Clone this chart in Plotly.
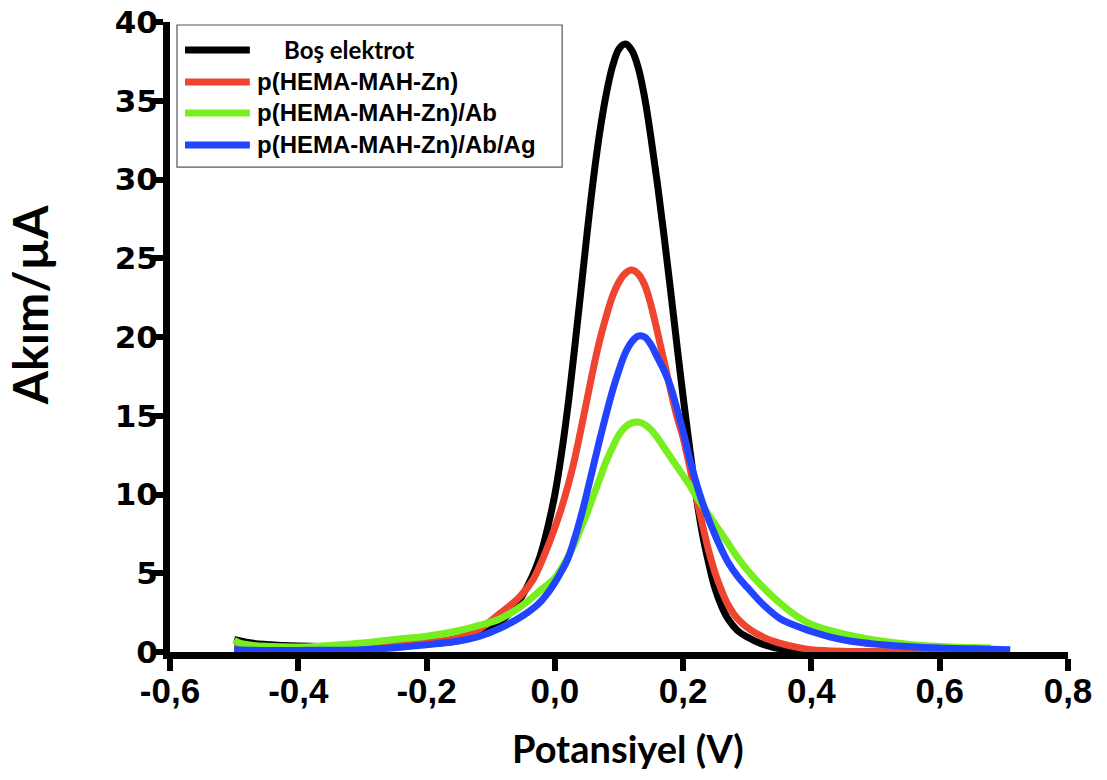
import plotly.graph_objects as go

# ---------------- data ----------------
series_names = ["Boş elektrot", "p(HEMA-MAH-Zn)", "p(HEMA-MAH-Zn)/Ab", "p(HEMA-MAH-Zn)/Ab/Ag"]
series_colors = ["#000000", "#EE4430", "#77EE1E", "#2244FF"]

bos_x = [-0.500, -0.490, -0.470, -0.450, -0.400, -0.300, -0.250, -0.200, -0.170, -0.140, -0.110,
         -0.090, -0.070, -0.055, -0.040, -0.030, -0.020, -0.010, 0.000, 0.010, 0.020, 0.030,
         0.040, 0.050, 0.060, 0.070, 0.080, 0.090, 0.100, 0.110, 0.120, 0.130, 0.140, 0.150,
         0.160, 0.170, 0.180, 0.190, 0.200, 0.211, 0.220, 0.230, 0.240, 0.250, 0.260, 0.270,
         0.285, 0.300, 0.320, 0.340, 0.370, 0.400, 0.450, 0.500, 0.600, 0.700]
bos_y = [0.80, 0.70, 0.55, 0.48, 0.38, 0.33, 0.40, 0.50, 0.60, 0.80, 1.20,
         1.70, 2.50, 3.30, 4.40, 5.30, 6.50, 8.10, 10.0, 12.5, 15.5, 19.0,
         22.7, 26.5, 30.0, 33.0, 35.4, 37.2, 38.3, 38.6, 38.2, 37.1, 35.2, 32.6,
         29.7, 26.5, 23.1, 19.6, 16.2, 12.7, 10.0, 7.5, 5.6, 4.0, 2.9, 2.1,
         1.35, 0.95, 0.55, 0.30, 0.12, 0.04, 0.01, 0.0, 0.0, 0.0]

zn_x = [-0.500, -0.450, -0.400, -0.300, -0.200, -0.150, -0.120, -0.090, -0.055, -0.034, -0.020,
        -0.010, 0.000, 0.010, 0.020, 0.030, 0.040, 0.050, 0.060, 0.070, 0.080, 0.090, 0.100,
        0.110, 0.120, 0.130, 0.140, 0.150, 0.160, 0.170, 0.180, 0.190, 0.200, 0.210, 0.220,
        0.230, 0.240, 0.250, 0.260, 0.270, 0.285, 0.305, 0.330, 0.350, 0.380, 0.400, 0.450,
        0.500, 0.600, 0.700]
zn_y = [0.35, 0.30, 0.28, 0.35, 0.60, 0.90, 1.40, 2.30, 3.50, 4.60, 5.80,
        6.80, 7.90, 9.10, 10.5, 12.1, 14.0, 16.0, 18.0, 19.8, 21.3, 22.6, 23.5,
        24.05, 24.25, 24.0, 23.3, 22.0, 20.3, 18.5, 16.7, 15.0, 13.6, 11.8, 9.9,
        8.1, 6.4, 5.0, 3.9, 3.0, 2.1, 1.4, 0.85, 0.57, 0.28, 0.15, 0.05,
        0.02, 0.0, 0.0]

ab_x = [-0.500, -0.490, -0.470, -0.450, -0.400, -0.350, -0.300, -0.250, -0.200, -0.150, -0.117,
        -0.086, -0.060, -0.040, -0.020, 0.000, 0.010, 0.020, 0.030, 0.040, 0.050, 0.060,
        0.070, 0.080, 0.090, 0.100, 0.110, 0.120, 0.130, 0.140, 0.150, 0.160, 0.170, 0.180,
        0.190, 0.200, 0.210, 0.220, 0.230, 0.240, 0.250, 0.260, 0.270, 0.285, 0.300, 0.320,
        0.340, 0.360, 0.380, 0.400, 0.430, 0.460, 0.500, 0.550, 0.600, 0.650, 0.680]
ab_y = [0.75, 0.55, 0.42, 0.36, 0.32, 0.42, 0.57, 0.80, 1.00, 1.35, 1.70,
        2.10, 2.70, 3.30, 4.00, 4.70, 5.30, 6.00, 6.80, 7.80, 8.80, 9.90,
        11.0, 12.1, 13.0, 13.8, 14.3, 14.55, 14.6, 14.45, 14.1, 13.6, 13.0, 12.4,
        11.8, 11.2, 10.6, 9.9, 9.3, 8.7, 8.1, 7.5, 6.9, 6.0, 5.2, 4.3,
        3.5, 2.8, 2.2, 1.75, 1.35, 1.05, 0.75, 0.50, 0.35, 0.28, 0.25]

ag_x = [-0.500, -0.450, -0.400, -0.300, -0.240, -0.190, -0.150, -0.117, -0.086, -0.050, -0.030,
        -0.020, -0.010, 0.000, 0.010, 0.020, 0.030, 0.040, 0.050, 0.060, 0.070, 0.080, 0.090,
        0.100, 0.110, 0.120, 0.130, 0.140, 0.150, 0.160, 0.170, 0.180, 0.190, 0.200, 0.210,
        0.220, 0.230, 0.240, 0.250, 0.260, 0.270, 0.285, 0.300, 0.325, 0.352, 0.380, 0.400,
        0.430, 0.460, 0.500, 0.550, 0.600, 0.650, 0.710]
ag_y = [0.15, 0.10, 0.10, 0.15, 0.30, 0.50, 0.70, 1.00, 1.50, 2.30, 2.90,
        3.30, 3.80, 4.40, 5.10, 5.90, 7.10, 8.50, 10.1, 11.8, 13.5, 15.1, 16.6,
        17.9, 19.0, 19.7, 20.05, 20.0, 19.5, 18.7, 17.9, 16.9, 15.5, 14.0, 12.3,
        10.8, 9.5, 8.4, 7.4, 6.5, 5.7, 4.8, 4.1, 3.0, 2.1, 1.6, 1.3,
        0.95, 0.70, 0.50, 0.35, 0.25, 0.20, 0.15]

x_tickvals = [-0.6, -0.4, -0.2, 0.0, 0.2, 0.4, 0.6, 0.8]
x_ticktext = ["-0,6", "-0,4", "-0,2", "0,0", "0,2", "0,4", "0,6", "0,8"]
y_tickvals = [0, 5, 10, 15, 20, 25, 30, 35, 40]
x_title = "Potansiyel (V)"
y_title = "Akım/µA"

xs = [bos_x, zn_x, ab_x, ag_x]
ys = [bos_y, zn_y, ab_y, ag_y]

# ---------------- figure ----------------
fig = go.Figure()
for name, color, x, y in zip(series_names, series_colors, xs, ys):
    fig.add_trace(go.Scatter(x=x, y=y, mode="lines", name=name,
                             line=dict(color=color, width=7, shape="spline", smoothing=1.0),
                             showlegend=False))

# manual legend (long line samples like the original)
leg_rows = [0.9556, 0.9048, 0.8556, 0.8048]
shapes = [dict(type="rect", xref="paper", yref="paper", x0=0.0078, x1=0.4367, y0=0.7698, y1=0.9952,
               line=dict(color="#555555", width=1.2), fillcolor="white", layer="below")]
annotations = []
for i, (name, color) in enumerate(zip(series_names, series_colors)):
    yy = leg_rows[i]
    shapes.append(dict(type="line", xref="paper", yref="paper", x0=0.0167, x1=0.0889, y0=yy, y1=yy,
                       line=dict(color=color, width=7), layer="above"))
    if i == 0:
        annotations.append(dict(xref="paper", yref="paper", x=0.1244, y=yy, xanchor="left", yanchor="middle",
                                text=name, showarrow=False,
                                font=dict(family="Lato", size=24, color="black", weight="bold")))
    else:
        annotations.append(dict(xref="paper", yref="paper", x=0.0944, y=yy, xanchor="left", yanchor="middle",
                                text=name, showarrow=False,
                                font=dict(family="Liberation Sans", size=24, color="black", weight="bold")))

# axis titles
annotations.append(dict(xref="paper", yref="paper", x=-0.1555, y=0.551, xanchor="center", yanchor="middle",
                        text=y_title, textangle=-90, showarrow=False,
                        font=dict(family="Lato", size=48, color="black", weight="bold")))
annotations.append(dict(xref="paper", yref="paper", x=0.510, y=-0.152, xanchor="center", yanchor="middle",
                        text=x_title, showarrow=False,
                        font=dict(family="Lato", size=38, color="black", weight="bold")))

fig.update_layout(
    width=1107, height=780,
    margin=dict(l=170, r=39, t=22, b=128, autoexpand=False),
    paper_bgcolor="white", plot_bgcolor="white",
    shapes=shapes, annotations=annotations,
    showlegend=False,
)
fig.update_xaxes(
    range=[-0.6, 0.8], tickvals=x_tickvals, ticktext=x_ticktext,
    showgrid=False, zeroline=False, showline=True, linecolor="black", linewidth=7,
    ticks="outside", ticklen=12, tickwidth=6, tickcolor="black", ticklabelstandoff=-10,
    tickfont=dict(family="Liberation Sans", size=35, color="black", weight="bold"),
    automargin=False,
)
fig.update_yaxes(
    range=[0, 40], tickvals=y_tickvals,
    showgrid=False, zeroline=False, showline=True, linecolor="black", linewidth=7,
    ticks="outside", ticklen=12, tickwidth=6, tickcolor="black", ticklabelstandoff=-13,
    ticklabeloverflow="allow",
    tickfont=dict(family="DejaVu Sans", size=31, color="black", weight="bold"),
    automargin=False,
)

fig.write_html("out.html", config={"displayModeBar": False},
               post_script="document.body.style.margin='0';")
